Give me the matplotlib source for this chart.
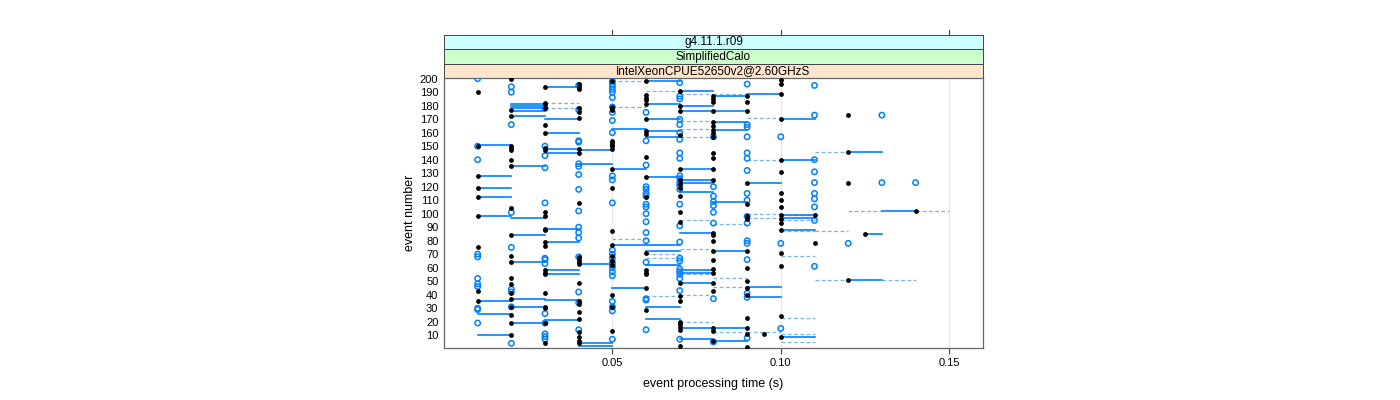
import numpy as np
import matplotlib
matplotlib.use('Agg')
import matplotlib.pyplot as plt
from matplotlib.patches import Rectangle

plt.rcParams['font.family'] = ['Liberation Sans', 'DejaVu Sans']

# strip labels (outer to inner)
strips = ['g4.11.1.r09', 'SimplifiedCalo', 'IntelXeonCPUE52650v2@2.60GHzS']
strip_cols = ['#ccffff', '#ccffcc', '#ffe5cc']

# black dots: time -> event numbers
black_x = [0.01, 0.02, 0.03, 0.04, 0.05, 0.06, 0.07, 0.08, 0.09, 0.095, 0.10, 0.11, 0.12, 0.125, 0.14]
black_ev = [
    [190, 150, 128, 119, 112, 98, 75, 43, 35],
    [200, 177, 172, 150, 149, 147, 140, 135, 104, 84, 69, 64, 52, 48, 41, 37, 31, 25, 19, 10],
    [194, 182, 181, 178, 166, 160, 149, 147, 101, 98, 89, 88, 79, 76, 58, 56, 55, 41, 31, 30, 19, 4],
    [196, 194, 192, 178, 175, 171, 148, 145, 108, 68, 66, 64, 63, 49, 35, 33, 27, 22, 12, 9, 6, 4],
    [198, 179, 177, 154, 152, 151, 150, 148, 133, 119, 87, 77, 69, 65, 62, 40, 31, 13],
    [198, 188, 186, 184, 181, 170, 161, 159, 142, 127, 112, 71, 58, 56, 55, 45, 29],
    [191, 180, 176, 158, 133, 125, 122, 119, 113, 101, 94, 49, 39, 35, 20, 18, 16, 14, 2],
    [187, 185, 183, 176, 168, 165, 162, 160, 157, 145, 141, 133, 125, 86, 84, 80, 72, 66, 59, 56, 49, 43, 15, 13, 6],
    [187, 183, 176, 123, 107, 98, 96, 72, 60, 50, 45, 40, 23, 15, 11, 1],
    [11],
    [199, 196, 189, 170, 140, 131, 115, 110, 105, 99, 96, 93, 88, 71, 61, 24, 9],
    [99, 78],
    [173, 146, 123, 51],
    [85],
    [102],
]

# open blue circles: time -> event numbers
blue_x = [0.01, 0.02, 0.03, 0.04, 0.05, 0.06, 0.07, 0.08, 0.09, 0.10, 0.11, 0.12, 0.13, 0.14]
blue_ev = [
    [200, 150, 140, 70, 68, 52, 48, 46, 30, 29, 19],
    [194, 190, 166, 101, 75, 44, 42, 31, 4],
    [178, 150, 143, 134, 108, 67, 66, 63, 26, 19, 11, 9, 7],
    [195, 177, 154, 153, 137, 135, 129, 118, 102, 90, 86, 82, 68, 42, 34, 14],
    [198, 196, 194, 192, 190, 186, 179, 175, 169, 160, 128, 125, 108, 73, 70, 67, 64, 62, 60, 57, 54, 35, 31, 28, 7],
    [175, 154, 136, 120, 118, 115, 113, 107, 105, 100, 94, 86, 80, 64, 37, 36, 14],
    [197, 187, 185, 170, 166, 160, 155, 145, 141, 128, 126, 123, 121, 118, 107, 91, 79, 67, 65, 59, 57, 55, 52, 43, 7],
    [157, 120, 113, 109, 106, 101, 93, 37, 5],
    [196, 166, 164, 157, 145, 141, 132, 115, 110, 98, 93, 80, 78, 66, 41, 38, 8],
    [157, 78, 15],
    [195, 173, 140, 131, 123, 115, 111, 105, 95, 61],
    [78],
    [173, 123],
    [123],
]

# solid segments: (start, end) -> events
solid_from = [0.01, 0.02, 0.03, 0.04, 0.05, 0.06, 0.07, 0.08, 0.09, 0.10, 0.12, 0.125, 0.13]
solid_to = [0.02, 0.03, 0.04, 0.05, 0.06, 0.07, 0.08, 0.09, 0.10, 0.11, 0.13, 0.13, 0.14]
solid_ev = [
    [151, 128, 119, 112, 98, 35, 26, 10],
    [181, 180, 178, 176, 172, 135, 97, 84, 64, 37, 31, 19],
    [194, 170, 160, 148, 145, 89, 79, 58, 55, 36, 21],
    [147, 137, 63, 4, 2],
    [163, 133, 77, 45],
    [198, 181, 170, 161, 157, 127, 77, 72, 62, 31, 22],
    [191, 180, 176, 133, 125, 123, 116, 86, 58, 56, 49, 15, 7],
    [187, 176, 168, 162, 109, 72, 15, 6],
    [189, 123, 46, 38],
    [170, 140, 99, 97, 88, 9],
    [146, 51],
    [85],
    [102],
]

# dashed segments
dash_from = [0.03, 0.05, 0.06, 0.07, 0.08, 0.09, 0.10, 0.11, 0.12, 0.13, 0.14]
dash_to = [0.04, 0.06, 0.07, 0.08, 0.09, 0.10, 0.11, 0.12, 0.13, 0.14, 0.15]
dash_ev = [
    [182, 178],
    [198, 179, 81],
    [191, 70, 67, 62, 39],
    [189, 169, 163, 157, 95, 74, 55, 40, 20],
    [189, 92, 52, 46, 12],
    [171, 140, 100, 97, 12],
    [99, 95, 87, 69, 23, 11, 5],
    [146, 87, 51],
    [102],
    [51],
    [102],
]

blue = '#0080ff'
fig = plt.figure(figsize=(14, 4), dpi=100)
ax = fig.add_axes([0.3171, 0.13, 0.385, 0.675])

for xv in [0.05, 0.10, 0.15]:
    ax.axvline(xv, color='#e6e6e6', lw=0.8, zorder=0)

for x0, x1, evs in zip(dash_from, dash_to, dash_ev):
    for e in evs:
        ax.plot([x0, x1], [e, e], color='#7ab2ec', lw=0.9, ls=(0, (3, 2)), zorder=1)

for x0, x1, evs in zip(solid_from, solid_to, solid_ev):
    for e in evs:
        ax.plot([x0, x1], [e, e], color=blue, lw=1.2, zorder=2)

for xv, evs in zip(blue_x, blue_ev):
    ax.scatter([xv] * len(evs), evs, s=15, facecolors='none', edgecolors=blue,
               linewidths=1.1, zorder=3)

for xv, evs in zip(black_x, black_ev):
    ax.scatter([xv] * len(evs), evs, s=12, color='black', linewidths=0, zorder=4)

ax.set_xlim(0.0, 0.16)
ax.set_ylim(0.5, 200.5)
ax.set_xticks([0.05, 0.10, 0.15])
ax.set_xticklabels(['0.05', '0.10', '0.15'])
ax.set_yticks(np.arange(10, 201, 10))
ax.tick_params(labelsize=8, length=4, color='#444444', width=0.8)
ax.tick_params(axis='y', length=0, pad=4)
for s in ax.spines.values():
    s.set_color('#666666')
    s.set_linewidth(0.9)
ax.set_xlabel('event processing time (s)', fontsize=9, labelpad=7)
ax.set_ylabel('event number', fontsize=9, labelpad=3)

# strips on top of the panel
sh = 14.3 / 270.0
for i, (lab, col) in enumerate(zip(strips, strip_cols)):
    y0 = 1.0 + (2 - i) * sh
    ax.add_patch(Rectangle((0, y0), 1, sh, transform=ax.transAxes, facecolor=col,
                           edgecolor='#444444', lw=0.7, clip_on=False))
    ax.text(0.5, y0 + sh / 2, lab, transform=ax.transAxes, ha='center', va='center',
            fontsize=8.5)

# top ticks above strips
for xv in [0.05, 0.10, 0.15]:
    ax.plot([xv, xv], [1 + 3 * sh, 1 + 3 * sh + 0.018], color='#444444', lw=0.8,
            transform=ax.get_xaxis_transform(), clip_on=False)

fig.savefig('out.png')
